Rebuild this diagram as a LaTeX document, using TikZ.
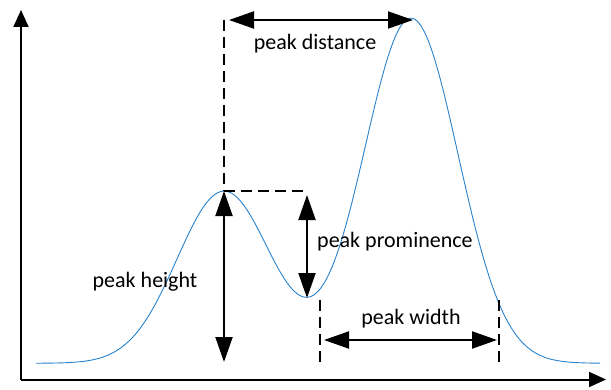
\documentclass[tikz,border=0pt]{standalone}
\usepackage{fontspec}
\setmainfont{Carlito}
\usetikzlibrary{arrows.meta}
\definecolor{curveblue}{RGB}{40,130,205}
\begin{document}
\begin{tikzpicture}[x=1pt,y=1pt,
  axis/.style={line width=2pt,-{Triangle[width=15pt,length=17pt]}},
  dim/.style={line width=2pt,{Triangle[width=17pt,length=25pt]}-{Triangle[width=17pt,length=25pt]}},
  guide/.style={line width=1.8pt,dash pattern=on 11pt off 6pt},
  lbl/.style={font=\fontsize{22}{26}\selectfont,inner sep=0pt}]
\useasboundingbox (0,0) rectangle (611,389);
% axes
\coordinate (O) at (21,9.5);
\coordinate (ytop) at (21,379);
\coordinate (xend) at (606,9.5);
\draw[axis] (O) -- (ytop);
\draw[axis] (O) -- (xend);
% curve
\draw[curveblue,line width=0.9pt] plot[domain=36:600,samples=300,smooth]
  (\x,{25.7+172*exp(-0.5*((\x-224)/47)^2)+345*exp(-0.5*((\x-411)/47)^2)});
% key points
\coordinate (p1) at (224,198);
\coordinate (p1top) at (224,369);
\coordinate (p1r) at (308,198);
\coordinate (dL) at (229,369);
\coordinate (dR) at (413,369);
\coordinate (hB) at (224,27);
\coordinate (prT) at (307,194);
\coordinate (prB) at (307,91);
\coordinate (wLt) at (320,89);
\coordinate (wLb) at (320,24);
\coordinate (wRt) at (499,89);
\coordinate (wRb) at (499,24);
\coordinate (wa) at (324,49);
\coordinate (wb) at (497,49);
% guides
\draw[guide] (p1top) -- (p1);
\draw[guide] (p1) -- (p1r);
\draw[guide] (wLt) -- (wLb);
\draw[guide] (wRt) -- (wRb);
% dimension arrows
\draw[dim] (dL) -- (dR);
\draw[dim] (p1) -- (hB);
\draw[dim] (prT) -- (prB);
\draw[dim] (wa) -- (wb);
% labels
\node[lbl,anchor=base] (dl) at (315,339) {peak distance};
\node[lbl,anchor=base west] (pl) at (317,142) {peak prominence};
\node[lbl,anchor=base] (hl) at (145,102) {peak height};
\node[lbl,anchor=base] (wl) at (411,65) {peak width};
\end{tikzpicture}
\end{document}
